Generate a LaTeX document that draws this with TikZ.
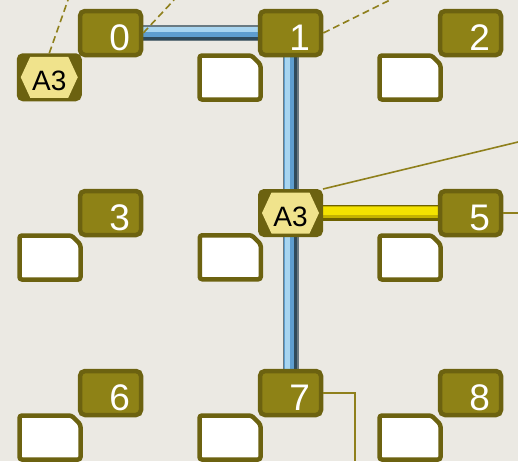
\documentclass[tikz,border=0pt]{standalone}
\usepackage{fontspec}
\setmainfont{Liberation Sans}
\usepackage{tikz}
\usetikzlibrary{positioning}
\usepackage{xcolor}
\definecolor{papel}{HTML}{EBE9E3}
\definecolor{oliva}{HTML}{8E8216}
\definecolor{olivaosc}{HTML}{6C6210}
\definecolor{linea}{HTML}{8F801C}
\definecolor{hexamarillo}{HTML}{F0E38C}
\definecolor{azulosc}{HTML}{2F4A5A}
\definecolor{azulmed}{HTML}{5E9ECF}
\definecolor{azulclaro}{HTML}{A8D5F0}
\definecolor{bordetubo}{HTML}{6A7A82}
\definecolor{amarillo}{HTML}{F4E300}
\definecolor{amarillomed}{HTML}{C4B300}
\definecolor{amarillosc}{HTML}{6E6200}
\pgfdeclarelayer{fondo}
\pgfdeclarelayer{tubos}
\pgfsetlayers{fondo,tubos,main}

\begin{document}
\begin{tikzpicture}[x=1pt, y=-1pt,
      num/.style={draw=olivaosc, fill=oliva, rounded corners=5pt, line width=4.5pt,
                  minimum width=61pt, minimum height=44pt, inner xsep=11pt, inner ysep=0pt,
                  text width=39pt, align=right, text height=34pt, text depth=0pt,
                  text=white, font=\fontsize{37}{40}\selectfont},
      hexa/.style={draw=olivaosc, fill=olivaosc, rounded corners=5pt, line width=2pt,
                  minimum width=63pt, minimum height=46pt, inner sep=0pt,
                  text height=26pt, text depth=0pt, font=\fontsize{28}{30}\selectfont,
                  path picture={\fill[hexamarillo, sharp corners]
                      (path picture bounding box.center) ++(-28.5,0) -- ++(9.5,-20.5)
                      -- ++(38,0) -- ++(9.5,20.5) -- ++(-9.5,20.5) -- ++(-38,0) -- cycle;}},
      blanco/.style={minimum width=61pt, minimum height=44pt, inner sep=0pt, outer sep=0pt},
      marco/.style={draw=olivaosc, fill=white, line width=4.5pt, rounded corners=2.5pt},
      punteado/.style={draw=linea, line width=1.6pt, dash pattern=on 7pt off 4pt},
      fina/.style={draw=linea, line width=1.6pt}]

    \useasboundingbox (0,0) rectangle (518,461);
    \begin{pgfonlayer}{fondo}
      \fill[papel] (0,0) rectangle (518,461);
    \end{pgfonlayer}

    % --- Casillas numeradas ----------------------------------------------
    \node[num] (c0) at (110.5,33) {0};
    \node[num] (c1) at (290.5,33) {1};
    \node[num] (c2) at (470.5,33) {2};
    \node[num] (c3) at (110.5,213) {3};
    \node[hexa] (h1) at (290.5,213) {A3};
    \node[num] (c5) at (470.5,213) {5};
    \node[num] (c6) at (110.5,393) {6};
    \node[num] (c7) at (290.5,393) {7};
    \node[num] (c8) at (470.5,393) {8};

    % --- Cajas blancas abajo a la izquierda de cada casilla --------------
    \node[hexa, below left=-4pt and -4pt of c0] (h0) {A3};
    \node[blanco, below left=-1.75pt and -2.75pt of c1] (b1) {};
    \node[blanco, below left=-1.75pt and -2.75pt of c2] (b2) {};
    \node[blanco, below left=-1.75pt and -2.75pt of c3] (b3) {};
    \node[blanco, below left=-1.75pt and -2.75pt of h1] (b4) {};
    \node[blanco, below left=-1.75pt and -2.75pt of c5] (b5) {};
    \node[blanco, below left=-1.75pt and -2.75pt of c6] (b6) {};
    \node[blanco, below left=-1.75pt and -2.75pt of c7] (b7) {};
    \node[blanco, below left=-1.75pt and -2.75pt of c8] (b8) {};
    \foreach \b in {b1,b2,b3,b4,b5,b6,b7,b8}
      \draw[marco] (\b.south west) -- (\b.north west) -- ([xshift=-9pt]\b.north east)
        -- ([yshift=-9pt]\b.north east) -- (\b.south east) -- cycle;

    % --- Tubos -----------------------------------------------------------
    \begin{pgfonlayer}{tubos}
      \foreach \w/\c/\s in {16/bordetubo/0,13/azulosc/0,10/azulmed/1.5,5/azulclaro/3.5}
        \draw[line width=\w pt, \c, transform canvas={yshift=\s pt}] (c0) -- (c1);
      \foreach \w/\c/\s in {16/bordetubo/0,13/azulosc/0,10/azulmed/1.5,5/azulclaro/3.5}
        \draw[line width=\w pt, \c, transform canvas={xshift=-\s pt}] (c1) -- (c7);
      \foreach \w/\c/\s in {16/amarillosc/0,12/amarillomed/1,8/amarillo/2.5}
        \draw[line width=\w pt, \c, transform canvas={yshift=\s pt}] (h1) -- (c5);
    \end{pgfonlayer}

    % --- Lineas que salen del cuadro -------------------------------------
    \coordinate (s0) at (68,0);
    \coordinate (s1) at (174,0);
    \coordinate (s2) at (390,0);
    \coordinate (s3) at (518,142);
    \coordinate (s4) at (518,213);
    \coordinate (s5) at (355,461);
    \draw[punteado] (h0.north) -- (s0);
    \draw[punteado] (c0.east) -- (s1);
    \draw[punteado] (c1.east) -- (s2);
    \draw[fina] (h1.north east) -- (s3);
    \draw[fina] (c5.east) -- (s4);
    \draw[fina] (c7.east) -| (s5);
\end{tikzpicture}
\end{document}
